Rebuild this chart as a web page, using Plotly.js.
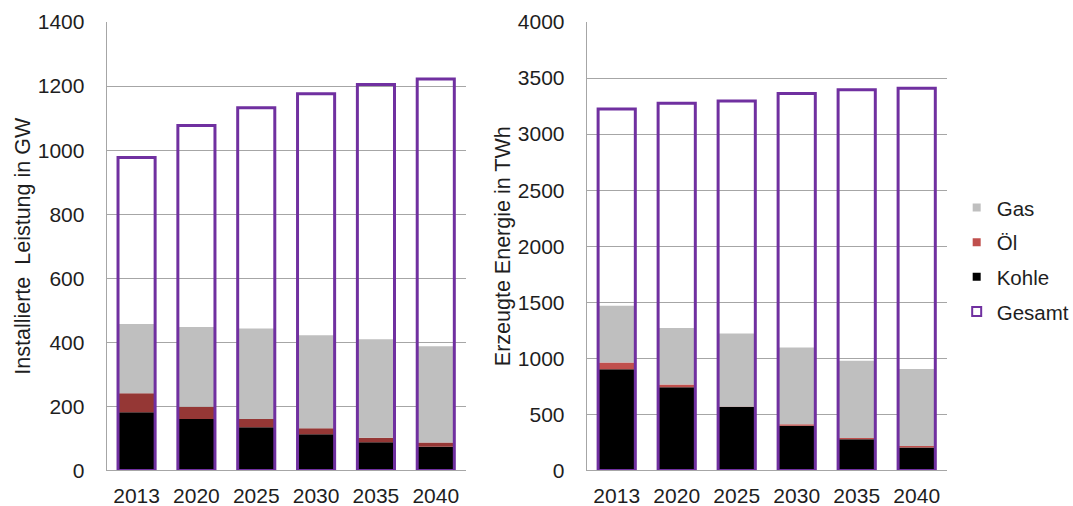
<!DOCTYPE html>
<html>
<head>
<meta charset="utf-8">
<script src="https://cdn.plot.ly/plotly-3.0.1.min.js"></script>
<style>
  html, body { margin: 0; padding: 0; background: #ffffff; }
  #chart { width: 1073px; height: 506px; }
</style>
</head>
<body>
<div id="chart"></div>
<script>
// Jahre
const years = ['2013', '2020', '2025', '2030', '2035', '2040'];

// Installierte Leistung in GW
const capKohle   = [182, 161, 135, 113, 88, 74];
const capOel     = [59, 38, 26, 19, 14, 13];
const capGas     = [216, 249, 282, 290, 308, 301];
const capGesamt  = [977, 1077, 1132, 1176, 1205, 1222];

// Erzeugte Energie in TWh
const genKohle   = [903, 743, 568, 400, 279, 204];
const genOel     = [59, 23, 2, 12, 11, 15];
const genGas     = [507, 504, 652, 684, 688, 685];
const genGesamt  = [3225, 3275, 3296, 3362, 3395, 3409];

// Achsenbeschriftung
const capTicks = [0, 200, 400, 600, 800, 1000, 1200, 1400];
const genTicks = [0, 500, 1000, 1500, 2000, 2500, 3000, 3500, 4000];

const colGas = '#bfbfbf';
const colOelDark = '#953735';
const colOel = '#c0504d';
const colKohle = '#000000';
const colGesamt = '#7030a0';

const FONT = 'Liberation Sans, Arial, sans-serif';
const TEXT = '#1e1e1e';
const GRID = '#a6a6a6';

// Gestapelte Balken: Kohle unten, darauf Öl, darauf Gas; Gesamt als Rahmen
function stackTraces(kohle, oel, gas, gesamt, oelColor, xa, ya) {
  const baseOel = kohle.slice();
  const baseGas = kohle.map((v, i) => v + oel[i]);
  const common = { type: 'bar', x: years, xaxis: xa, yaxis: ya, showlegend: false, hoverinfo: 'y' };
  return [
    Object.assign({}, common, { name: 'Kohle', y: kohle, base: 0, marker: { color: colKohle, line: { width: 0 } } }),
    Object.assign({}, common, { name: 'Öl', y: oel, base: baseOel, marker: { color: oelColor, line: { width: 0 } } }),
    Object.assign({}, common, { name: 'Gas', y: gas, base: baseGas, marker: { color: colGas, line: { width: 0 } } }),
    Object.assign({}, common, { name: 'Gesamt', y: gesamt, base: 0,
      marker: { color: 'rgba(0,0,0,0)', line: { color: colGesamt, width: 3 } } })
  ];
}

// Legendeneinträge
function legendEntry(name, symbol, color, rank) {
  return {
    type: 'scatter', mode: 'markers', x: [null], y: [null], name: name,
    legendgroup: name, legendrank: rank, showlegend: true, hoverinfo: 'skip',
    marker: symbol === 'square-open'
      ? { symbol: 'square-open', size: 9, color: colGesamt, line: { color: colGesamt, width: 2 } }
      : { symbol: 'square', size: 8, color: color, line: { width: 0 } }
  };
}

const data = []
  .concat(stackTraces(capKohle, capOel, capGas, capGesamt, colOelDark, 'x', 'y'))
  .concat(stackTraces(genKohle, genOel, genGas, genGesamt, colOel, 'x2', 'y2'))
  .concat([
    legendEntry('Gas', 'square', colGas, 1),
    legendEntry('Öl', 'square', colOel, 2),
    legendEntry('Kohle', 'square', colKohle, 3),
    legendEntry('Gesamt', 'square-open', colGesamt, 4)
  ]);

const xCommon = {
  type: 'category', showgrid: false, zeroline: false,
  showline: true, linecolor: GRID, linewidth: 1,
  ticks: 'outside', ticklen: 6, tickcolor: 'rgba(0,0,0,0)',
  tickfont: { family: FONT, size: 21, color: TEXT }, fixedrange: true
};
const yCommon = {
  showgrid: true, gridcolor: GRID, gridwidth: 1, zeroline: false,
  showline: true, linecolor: GRID, linewidth: 1,
  ticks: 'outside', ticklen: 17, tickcolor: 'rgba(0,0,0,0)',
  tickfont: { family: FONT, size: 21, color: TEXT }, fixedrange: true
};

const layout = {
  width: 1073, height: 506,
  margin: { l: 0, r: 0, t: 0, b: 0, autoexpand: false },
  paper_bgcolor: '#ffffff', plot_bgcolor: '#ffffff',
  font: { family: FONT, color: TEXT },
  barmode: 'overlay', bargap: 0.38,
  xaxis: Object.assign({}, xCommon, { domain: [0.0994, 0.434], anchor: 'y' }),
  yaxis: Object.assign({}, yCommon, {
    domain: [0.0702, 0.9565], anchor: 'x', range: [0, 1400], tickvals: capTicks,
    title: { text: 'Installierte\u00a0 Leistung in GW', standoff: 1, font: { family: FONT, size: 21.5, color: TEXT } }
  }),
  xaxis2: Object.assign({}, xCommon, { domain: [0.5468, 0.8823], anchor: 'y2' }),
  yaxis2: Object.assign({}, yCommon, {
    domain: [0.0702, 0.9565], anchor: 'x2', range: [0, 4000], tickvals: genTicks,
    title: { text: 'Erzeugte Energie in TWh', standoff: 1, font: { family: FONT, size: 21.5, color: TEXT } }
  }),
  showlegend: true,
  legend: {
    x: 0.8916, xanchor: 'left', y: 0.629, yanchor: 'top',
    traceorder: 'grouped', tracegroupgap: 5, itemwidth: 30,
    font: { family: FONT, size: 20.5, color: TEXT },
    bgcolor: 'rgba(0,0,0,0)', borderwidth: 0
  }
};

Plotly.newPlot('chart', data, layout, { displayModeBar: false, staticPlot: true });
</script>
</body>
</html>
